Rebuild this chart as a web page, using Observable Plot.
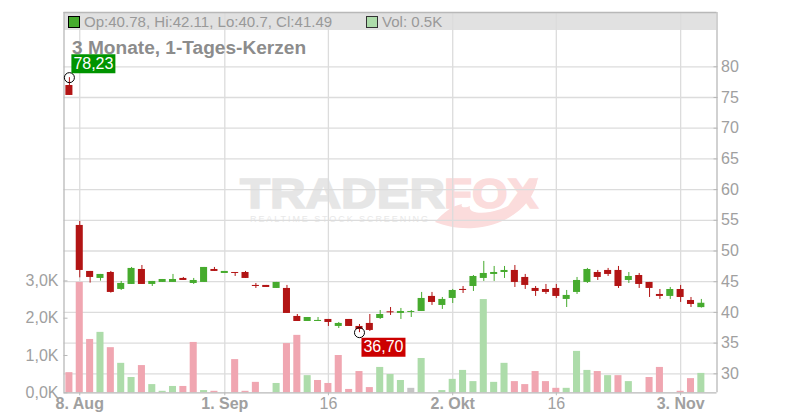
<!DOCTYPE html>
<html lang="de">
<head>
<meta charset="utf-8">
<script src="https://cdn.jsdelivr.net/npm/d3@7"></script>
<script src="https://cdn.jsdelivr.net/npm/@observablehq/plot@0.6"></script>
<style>
html,body{margin:0;padding:0;background:#fff;}
#stage{position:relative;width:800px;height:420px;overflow:hidden;font-family:"Liberation Sans",Arial,sans-serif;}
#stage>*{position:absolute;}
#mark{left:0;top:0;}
#chart{left:0;top:0;}
#band{left:64px;top:12px;width:652px;height:18px;background:rgba(222,222,222,.92);}
.sw{width:10px;height:10px;top:16px;}
.hd{top:13px;font-size:15.05px;color:#999;line-height:17px;white-space:nowrap;}
#title{left:72px;top:37px;font-size:19.1px;font-weight:bold;color:#8c8c8c;line-height:22px;white-space:nowrap;}
</style>
</head>
<body>
<div id="stage">
<svg id="mark" width="800" height="420" font-family="Liberation Sans,Arial,sans-serif" font-weight="bold">
<text x="240" y="208" font-size="43" fill="#e6e6e6" stroke="#e6e6e6" stroke-width="1.6" textLength="205" lengthAdjust="spacingAndGlyphs">TRADER</text>
<text x="444" y="208" font-size="43" fill="#fbdcdc" stroke="#fbdcdc" stroke-width="1.6" textLength="94" lengthAdjust="spacingAndGlyphs">FOX</text>
<text x="250" y="222" font-size="9" font-weight="normal" fill="#e8e8e8" textLength="178" lengthAdjust="spacing">REALTIME STOCK SCREENING</text>
<path d="M435 222 C444 212 452 206 462 204 C460 208 466 208 470 206 C468 212 478 214 490 212 C510 208 528 196 538 177 C534 206 506 226 474 228 C458 229 446 226 435 222Z" fill="#fbdcdc"/>
</svg>
<div id="band"></div>
<div id="chart"></div>
<div class="sw" style="left:68px;background:#46ab2e;border:1px solid #000;"></div>
<div class="hd" style="left:84px;">Op:40.78, Hi:42.11, Lo:40.7, Cl:41.49</div>
<div class="sw" style="left:366px;background:#addcaa;border:1px solid #333;"></div>
<div class="hd" style="left:382px;">Vol: 0.5K</div>
<div id="title">3 Monate, 1-Tages-Kerzen</div>
</div>
<script>
const opens  = [76.95,54.16,46.67,45.53,46.50,43.74,44.55,46.99,44.55,44.88,44.88,45.53,44.71,44.88,46.99,46.34,46.50,46.50,44.39,44.39,43.90,43.90,39.34,38.52,38.52,38.85,37.71,38.85,37.71,38.20,39.01,40.10,39.83,39.99,40.15,42.60,41.13,42.27,43.74,44.22,45.53,46.18,46.50,46.83,45.69,43.90,43.73,43.90,42.11,43.25,44.88,46.50,46.83,46.83,45.20,46.01,44.88,42.92,42.60,43.73,41.94,40.78];
const closes = [75.33,46.83,45.69,46.18,43.25,44.71,47.16,44.55,45.04,45.36,45.36,45.20,45.20,47.32,46.67,46.67,46.34,45.53,44.22,44.06,44.88,39.83,38.52,39.17,38.69,38.36,38.20,37.71,37.22,37.06,39.66,39.93,40.15,40.15,42.27,41.62,42.11,43.57,43.57,45.85,46.34,46.50,46.83,44.88,44.39,43.41,43.25,42.60,42.76,45.20,46.99,45.69,46.18,44.22,45.85,44.55,43.90,42.60,43.73,42.43,41.29,41.49];
const highs  = [78.23,54.81,46.67,46.18,46.67,45.04,47.32,47.64,45.04,45.36,46.18,45.69,45.53,47.32,47.32,46.67,46.50,46.67,44.71,44.39,44.88,44.39,39.66,39.17,39.17,38.85,38.36,38.85,38.03,39.66,40.31,40.80,40.64,40.31,43.25,43.25,42.43,43.74,44.22,46.01,48.30,47.48,47.48,47.64,46.18,44.22,44.55,44.55,43.57,45.69,47.16,46.83,47.16,47.48,46.50,46.34,44.88,43.73,44.06,44.39,42.43,42.11];
const lows   = [75.33,45.63,44.77,45.09,43.14,43.57,44.55,44.55,44.22,44.88,44.88,45.20,44.55,44.88,46.67,46.34,45.85,45.53,43.90,44.06,43.90,39.83,38.52,38.52,38.52,37.71,37.38,37.71,36.70,36.89,38.85,39.50,38.85,39.17,40.15,41.13,40.48,41.45,43.08,43.41,45.04,45.04,45.53,44.06,43.74,42.60,42.92,42.27,40.80,42.92,44.71,45.20,45.85,43.90,44.71,43.90,42.43,42.11,42.11,41.62,40.80,40.70];
const volumes = [.54,2.96,1.43,1.62,1.21,.79,.41,.73,.22,.04,.17,.17,1.35,.06,.04,0,.89,.04,.28,0,.25,1.32,1.54,.46,.33,.25,1.0,.09,.57,.14,.68,.49,.33,.12,.92,0,.06,.36,.6,.3,2.5,.28,.79,.3,.22,.57,.3,.12,.12,1.11,.6,.57,.46,.46,.3,0,.41,.68,0,.04,.38,.52];
const volumeTone = "rrrgrggrgggrrgrgrrrggrrgrrrrrrgggngggggggggrrrrrgggrgrgrrrrrrg".split("");
const priceTicks = [30,35,40,45,50,55,60,65,70,75,80];
const volumeTicks = [0,1,2,3];
const volumeTickLabels = ["0,0K","1,0K","2,0K","3,0K"];
const monthTicks = [1,15,37,59];
const monthLabels = ["8. Aug","1. Sep","2. Okt","3. Nov"];
const midTicks = [25,47];
const midLabels = ["16","16"];
const hiIndex = 0, loIndex = 28;
const hiLabel = "78,23", loLabel = "36,70";

const up = "#46ab2e", down = "#b21414", gridColor = "#dcdcdc", axisColor = "#b8b8b8", textColor = "#a0a0a0";
const toneColor = {r:"#f0a6b1", g:"#addcaa", n:"#c4c4c4"};
const candles = opens.map((o,i)=>({i,o,c:closes[i],h:highs[i],l:lows[i],v:volumes[i],t:volumeTone[i]}));
// volume shares the plot: a second linear scale onto the price domain
const yDomain = [26.906,88.84];
const volToPrice = d3.scaleLinear([0,1],[26.906,26.906+37.3/6.14]);
const barHalf = 0.34;
const box = {draw(c){c.rect(-22,-9.5,44,19);}};
const colour = d=>d.c>=d.o?up:down;

const chart = Plot.plot({
  width:800,height:420,
  marginLeft:63.5,marginRight:83.5,marginTop:12,marginBottom:27.7,
  style:{background:"transparent",fontFamily:"Liberation Sans, Arial, sans-serif"},
  x:{domain:[-0.521,62.51],range:[63.5,716.5],axis:null},
  y:{domain:yDomain,range:[392.3,12],axis:null},
  marks:[
    Plot.ruleY(priceTicks,{stroke:gridColor,strokeWidth:1.3}),
    Plot.ruleX(monthTicks.concat(midTicks),{stroke:gridColor,strokeWidth:1.3}),
    Plot.rect(candles,{x1:d=>d.i-barHalf,x2:d=>d.i+barHalf,y1:()=>volToPrice(0),y2:d=>volToPrice(d.v),fill:d=>toneColor[d.t]}),
    Plot.ruleX(candles,{x:"i",y1:"l",y2:"h",stroke:colour,strokeWidth:1}),
    Plot.rect(candles,{x1:d=>d.i-barHalf,x2:d=>d.i+barHalf,y1:"o",y2:"c",fill:colour}),
    Plot.ruleX([-0.521,62.51],{stroke:axisColor,strokeWidth:1.3}),
    Plot.ruleY(yDomain,{stroke:axisColor,strokeWidth:1.3}),
    Plot.axisY(priceTicks,{anchor:"right",label:null,tickSize:-4,tickPadding:8,fontSize:16,color:textColor,stroke:axisColor,tickFormat:d=>String(d)}),
    Plot.axisY(volumeTicks.map(volToPrice),{anchor:"left",label:null,tickSize:-4,tickPadding:9.5,fontSize:16,color:textColor,stroke:axisColor,tickFormat:(d,i)=>volumeTickLabels[i]}),
    Plot.axisX(monthTicks,{anchor:"bottom",label:null,tickSize:3,tickPadding:2,fontSize:16,fontWeight:"bold",color:textColor,stroke:axisColor,tickFormat:(d,i)=>monthLabels[i]}),
    Plot.axisX(midTicks,{anchor:"bottom",label:null,tickSize:3,tickPadding:2,fontSize:16,color:textColor,stroke:axisColor,tickFormat:(d,i)=>midLabels[i]}),
    Plot.dot([candles[hiIndex]],{x:"i",y:"h",r:5,stroke:"#000",fill:"none",strokeWidth:1}),
    Plot.dot([candles[loIndex]],{x:"i",y:"l",r:5,stroke:"#000",fill:"none",strokeWidth:1}),
    Plot.dot([candles[hiIndex]],{x:"i",y:"h",dx:24,dy:-14,r:5,symbol:box,fill:"#009400"}),
    Plot.dot([candles[loIndex]],{x:"i",y:"l",dx:24,dy:14.5,r:5,symbol:box,fill:"#cc0000"}),
    Plot.text([candles[hiIndex]],{x:"i",y:"h",dx:24,dy:-14,text:()=>hiLabel,fill:"#fff",fontSize:16}),
    Plot.text([candles[loIndex]],{x:"i",y:"l",dx:24,dy:14.5,text:()=>loLabel,fill:"#fff",fontSize:16})
  ]
});
document.getElementById("chart").appendChild(chart);
</script>
</body>
</html>
